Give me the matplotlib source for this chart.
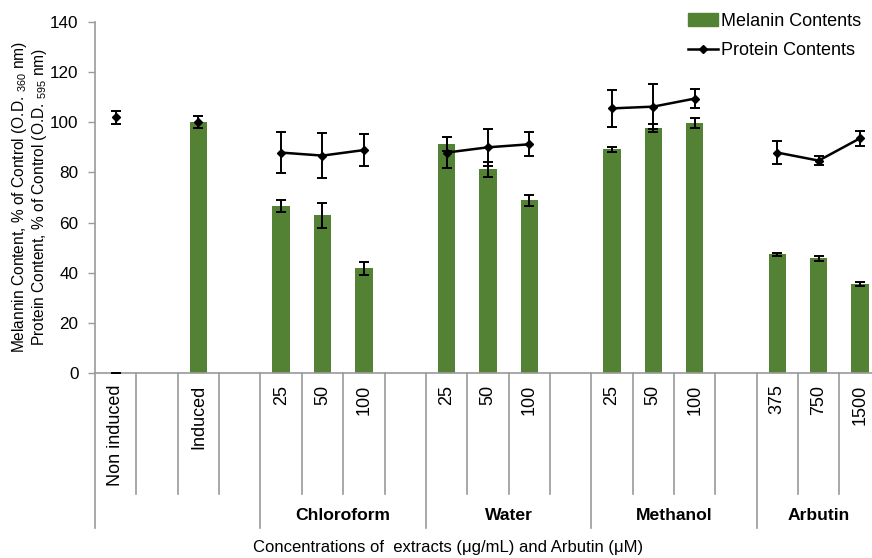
"""
Melanin and protein contents of treated cells, bars plus a broken line.
"""

import numpy as np
import matplotlib
matplotlib.use("Agg")
import matplotlib.pyplot as plt
from matplotlib.lines import Line2D
from matplotlib.patches import Patch
from matplotlib.transforms import blended_transform_factory

plt.rcParams['font.family'] = ['Liberation Sans', 'DejaVu Sans']
plt.rcParams['mathtext.fontset'] = 'custom'
plt.rcParams['mathtext.rm'] = 'Liberation Sans'
plt.rcParams['mathtext.default'] = 'regular'

nan = np.nan

# one slot per position on the x axis, '' marks an empty spacer slot
slot_labels = ['Non induced', '', 'Induced', '',
               '25', '50', '100', '',
               '25', '50', '100', '',
               '25', '50', '100', '',
               '375', '750', '1500']

melanin = [0, nan, 100, nan,
           66.6, 62.9, 41.8, nan,
           91.3, 81.2, 69.0, nan,
           89.3, 97.7, 99.6, nan,
           47.5, 45.8, 35.6]
melanin_err = [0, nan, 2.5, nan,
               2.3, 5.0, 2.5, nan,
               2.8, 3.0, 2.2, nan,
               1.0, 1.5, 2.0, nan,
               0.6, 1.0, 0.8]

protein = [101.9, nan, 100.0, nan,
           87.9, 86.7, 88.9, nan,
           87.9, 90.0, 91.2, nan,
           105.5, 106.2, 109.4, nan,
           87.9, 84.7, 93.6]
protein_err = [2.6, nan, 2.5, nan,
               8.0, 9.0, 6.5, nan,
               6.3, 7.4, 4.7, nan,
               7.5, 9.0, 3.8, nan,
               4.7, 1.7, 2.9]

# groups: (label, first slot, last slot + 1)
groups = [('', 0, 4), ('Chloroform', 4, 8), ('Water', 8, 12),
          ('Methanol', 12, 16), ('Arbutin', 16, 19)]

green = '#548235'
gray = '#9a9a9a'

fig = plt.figure(figsize=(8.72, 5.58), dpi=100)
ax = fig.add_axes([0.109, 0.331, 0.901, 0.630])

x = np.arange(len(slot_labels))
mel = np.array(melanin, dtype=float)
mel_e = np.array(melanin_err, dtype=float)
pro = np.array(protein, dtype=float)
pro_e = np.array(protein_err, dtype=float)

m = ~np.isnan(mel)
ax.bar(x[m], mel[m], width=0.42, color=green, zorder=2)
ax.errorbar(x[m], mel[m], yerr=mel_e[m], fmt='none', ecolor='black',
            elinewidth=1.4, capsize=3.5, capthick=1.4, zorder=3)

p = ~np.isnan(pro)
ax.plot(x, pro, color='black', lw=1.8, zorder=4)
ax.errorbar(x[p], pro[p], yerr=pro_e[p], fmt='D', color='black',
            markersize=4.5, elinewidth=1.4, capsize=3.5, capthick=1.4,
            zorder=5)

ax.set_xlim(-0.5, len(slot_labels) - 0.5)
ax.set_ylim(0, 140)
ax.set_yticks(range(0, 141, 20))
ax.tick_params(axis='y', labelsize=12.3, color=gray, length=5, pad=7,
               width=1)
ax.tick_params(axis='x', bottom=False, labelbottom=False)
for side in ('top', 'right'):
    ax.spines[side].set_visible(False)
for side in ('left', 'bottom'):
    ax.spines[side].set_color(gray)
    ax.spines[side].set_linewidth(1.2)

# category table under the axis
trans = blended_transform_factory(ax.transData, ax.transAxes)
short_end = -0.343
long_end = -0.44
group_starts = [g[1] for g in groups]
for i in range(len(slot_labels)):
    end = long_end if i in group_starts else short_end
    ax.plot([i - 0.5, i - 0.5], [0, end], color=gray, lw=1.2,
            transform=trans, clip_on=False)
    if slot_labels[i]:
        ax.text(i, -0.032, slot_labels[i], rotation=90, ha='center',
                va='top', fontsize=13, transform=trans)

for name, start, stop in groups:
    if name:
        ax.text((start + stop - 1) / 2, -0.404, name, ha='center',
                va='center', fontsize=12.6, fontweight='bold',
                transform=trans)

fig.text(0.514, 0.018, 'Concentrations of  extracts (\u03bcg/mL) and Arbutin (\u03bcM)',
         ha='center', va='center', fontsize=12)

fig.text(0.034, 0.647,
         'Melannin Content, % of Control (O.D. $_{360}$ nm)\n'
         'Protein Content, % of Control (O.D. $_{595}$ nm)',
         rotation=90, ha='center', va='center', fontsize=11.2,
         multialignment='center', linespacing=1.05)

handles = [Patch(color=green),
           Line2D([], [], color='black', lw=1.8, marker='D', markersize=4)]
fig.legend(handles, ['Melanin Contents', 'Protein Contents'],
           loc='upper left', bbox_to_anchor=(0.789, 0.977), frameon=False,
           fontsize=13, borderpad=0, borderaxespad=0, handlelength=1.65,
           handletextpad=0.2, labelspacing=0.7)

fig.savefig('out.png', dpi=100)
